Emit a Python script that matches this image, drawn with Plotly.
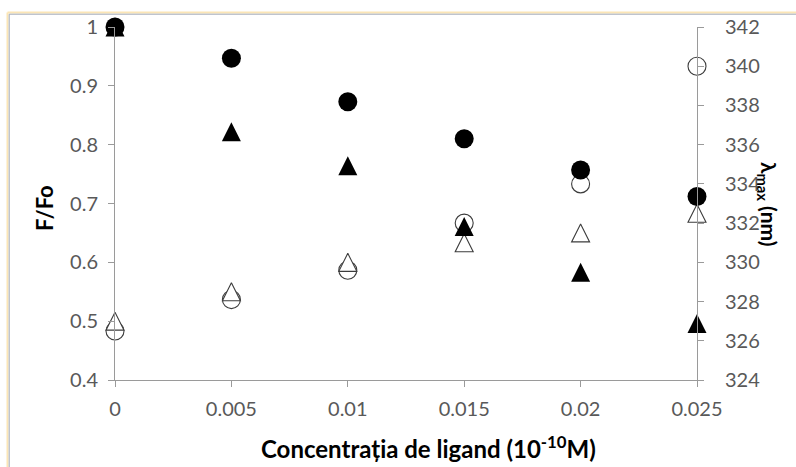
import plotly.graph_objects as go

# Ligand concentration (10^-10 M)
conc = [0, 0.005, 0.01, 0.015, 0.02, 0.025]

# Relative fluorescence F/Fo (left axis)
f_circle = [1.0, 0.947, 0.873, 0.810, 0.757, 0.712]
f_triangle = [1.0, 0.822, 0.764, 0.661, 0.583, 0.496]

# Emission maximum lambda_max in nm (right axis)
lam_circle = [326.5, 328.1, 329.6, 332.0, 334.0, 340.0]
lam_triangle = [327.0, 328.5, 330.0, 331.0, 331.5, 332.5]

W, H = 796, 467
ML, MR, MT, MB = 115, 99, 27, 87
PW, PH = W - ML - MR, H - MT - MB

FONT = "Lato, Carlito, 'Open Sans', sans-serif"
AXIS_GREY = "#9a9a9a"
TICK_GREY = "#595959"
OPEN_EDGE = "#3c3c3c"
SZ = 19

fig = go.Figure()

# open markers: wavelength series on the right-hand axis
fig.add_trace(go.Scatter(
    x=conc, y=lam_circle, mode="markers", yaxis="y", cliponaxis=False,
    marker=dict(symbol="circle", size=SZ - 1, color="white",
                line=dict(color=OPEN_EDGE, width=1.1)),
    showlegend=False))
# upright isosceles triangle (as tall as wide), centred on the point
fig.add_trace(go.Scatter(
    x=conc, y=lam_triangle, mode="markers", yaxis="y", cliponaxis=False,
    marker=dict(symbol="arrow-down", angle=180, standoff=(SZ - 1) / 2,
                size=SZ - 1, color="white",
                line=dict(color=OPEN_EDGE, width=1.1)),
    showlegend=False))

# filled markers: fluorescence series on the left-hand axis
fig.add_trace(go.Scatter(
    x=conc, y=f_triangle, mode="markers", yaxis="y2", cliponaxis=False,
    marker=dict(symbol="arrow-down", angle=180, standoff=SZ / 2,
                size=SZ, color="black", line=dict(width=0)),
    showlegend=False))
fig.add_trace(go.Scatter(
    x=conc, y=f_circle, mode="markers", yaxis="y2", cliponaxis=False,
    marker=dict(symbol="circle", size=SZ, color="black", line=dict(width=0)),
    showlegend=False))

axis_common = dict(
    showgrid=False, zeroline=False, showline=True, linecolor=AXIS_GREY,
    linewidth=1, ticks="outside", ticklen=6, tickcolor=AXIS_GREY,
    tickfont=dict(family=FONT, size=20, color=TICK_GREY),
)

fig.update_layout(
    width=W, height=H,
    margin=dict(l=ML, r=MR, t=MT, b=MB, pad=0),
    paper_bgcolor="white", plot_bgcolor="white",
    showlegend=False,
    xaxis=dict(range=[0, 0.025], tickvals=conc, ticklabelstandoff=5,
               **axis_common),
    yaxis=dict(range=[324, 342], dtick=2, tick0=324, side="right",
               ticklabelstandoff=17, **axis_common),
    yaxis2=dict(range=[0.4, 1.0], dtick=0.1, tick0=0.4, side="left",
                overlaying="y", ticklabelstandoff=6, **axis_common),
)

def px_x(p):
    return (p - ML) / PW

def px_y(p):
    return (H - MB - p) / PH

fig.add_annotation(
    text="<b>Concentrația de ligand (10<sup>-10</sup>M)</b>",
    xref="paper", yref="paper", x=px_x(428), y=px_y(447),
    xanchor="center", yanchor="middle", showarrow=False,
    font=dict(family=FONT, size=24, color="black"))
fig.add_annotation(
    text="<b>F/Fo</b>", textangle=-90,
    xref="paper", yref="paper", x=px_x(44), y=px_y(208),
    xanchor="center", yanchor="middle", showarrow=False,
    font=dict(family=FONT, size=22, color="black"))
fig.add_annotation(
    text="<b>λ<sub>max</sub> (nm)</b>", textangle=90,
    xref="paper", yref="paper", x=px_x(768), y=px_y(204),
    xanchor="center", yanchor="middle", showarrow=False,
    font=dict(family=FONT, size=21, color="black"))

# chart-area frame along the top and left edges
for yv, col, w in [(12.5, "#fbe5b6", 2), (14.2, "#a3aab8", 1)]:
    y = px_y(yv)
    fig.add_shape(type="line", xref="paper", yref="paper",
                  x0=px_x(yv - 5), x1=px_x(W + 5), y0=y, y1=y,
                  line=dict(color=col, width=w), layer="above")
for xv, col, w in [(7.5, "#fbe5b6", 2), (9.2, "#a3aab8", 1)]:
    x = px_x(xv)
    fig.add_shape(type="line", xref="paper", yref="paper",
                  x0=x, x1=x, y0=px_y(xv + 5), y1=px_y(H + 5),
                  line=dict(color=col, width=w), layer="above")

fig.write_html("out.html")
